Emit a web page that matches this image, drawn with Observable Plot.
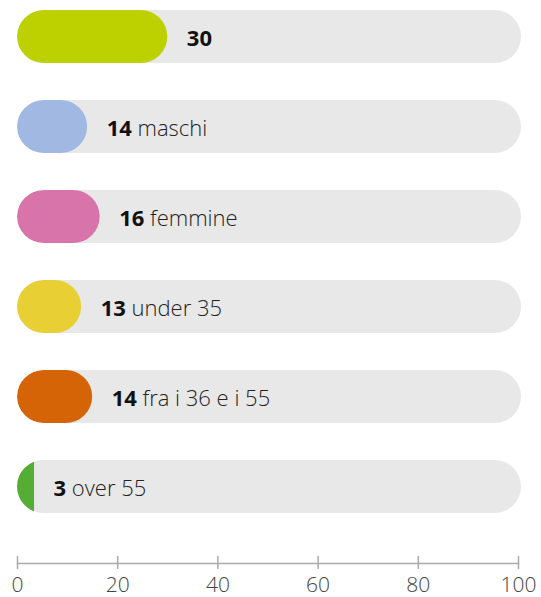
<!DOCTYPE html>
<html>
<head>
<meta charset="utf-8">
<script src="https://cdn.jsdelivr.net/npm/d3@7"></script>
<script src="https://cdn.jsdelivr.net/npm/@observablehq/plot@0.6"></script>
<style>
  html, body { margin: 0; padding: 0; background: #fff; }
  #chart svg { display: block; }
</style>
</head>
<body>
<div id="chart"></div>
<script>
const categories = ["totale", "maschi", "femmine", "under 35", "fra i 36 e i 55", "over 55"];
const names = ["", "maschi", "femmine", "under 35", "fra i 36 e i 55", "over 55"];
const counts = [30, 14, 16, 13, 14, 3];
const barValues = [30, 14, 16.5, 12.8, 15, 3.4];
const colors = ["#bdd000", "#a1b8e2", "#d874a9", "#e8cf33", "#d46405", "#55ad35"];
const xTicks = [0, 20, 40, 60, 80, 100];

const data = categories.map((c, i) => ({
  cat: c,
  v: barValues[i],
  color: colors[i],
  label: names[i] ? `${counts[i]} ${names[i]}` : `${counts[i]}`
}));

const svgNS = "http://www.w3.org/2000/svg";

const chart = Plot.plot({
  width: 541,
  height: 597,
  marginLeft: 17,
  marginRight: 23,
  marginTop: 10,
  marginBottom: 34,
  style: { fontFamily: "'Open Sans', sans-serif", background: "#fff" },
  x: { domain: [0, 100], axis: null, label: null },
  y: { domain: categories, axis: null, paddingInner: 0.4157, paddingOuter: 0.2563, align: 0 },
  color: { type: "identity" },
  marks: [
    Plot.barX(data, { x1: d => 0, x2: d => 100.6, y: "cat", fill: "#e8e8e8", rx: 26.5 }),
    Plot.barX(data, {
      x1: d => 0, x2: "v", y: "cat", fill: "color",
      render(index, scales, values, dimensions, context, next) {
        const g = next(index, scales, values, dimensions, context);
        const x0 = scales.x(0), x1 = scales.x(100.6);
        const clip = document.createElementNS(svgNS, "clipPath");
        clip.setAttribute("id", "track-clip");
        g.querySelectorAll("rect").forEach(r => {
          const y = +r.getAttribute("y"), h = +r.getAttribute("height"), w = +r.getAttribute("width");
          r.setAttribute("rx", w >= h ? h / 2 : 0);
          const c = document.createElementNS(svgNS, "rect");
          c.setAttribute("x", x0); c.setAttribute("width", x1 - x0);
          c.setAttribute("y", y); c.setAttribute("height", h);
          c.setAttribute("rx", h / 2);
          clip.appendChild(c);
        });
        g.insertBefore(clip, g.firstChild);
        g.setAttribute("clip-path", "url(#track-clip)");
        return g;
      }
    }),
    Plot.text(data, {
      x: "v", y: "cat", text: "label", dx: 19, dy: 1.5, textAnchor: "start",
      fontSize: 22, fill: "#111",
      render(index, scales, values, dimensions, context, next) {
        const g = next(index, scales, values, dimensions, context);
        g.querySelectorAll("text").forEach(t => {
          const s = t.textContent;
          const k = s.indexOf(" ");
          const num = k < 0 ? s : s.slice(0, k);
          const rest = k < 0 ? "" : s.slice(k);
          t.textContent = "";
          const a = document.createElementNS(svgNS, "tspan");
          a.setAttribute("font-weight", "700");
          a.textContent = num;
          t.appendChild(a);
          if (rest) {
            const b = document.createElementNS(svgNS, "tspan");
            b.setAttribute("font-weight", "300");
            b.setAttribute("fill", "#222");
            b.textContent = rest;
            t.appendChild(b);
          }
        });
        return g;
      }
    }),
    Plot.frame({ anchor: "bottom", stroke: "#aaa", strokeWidth: 1.5 }),
    Plot.tickX(xTicks, { x: d => d, stroke: "#aaa", strokeWidth: 1.5, insetTop: 546, insetBottom: -6 }),
    Plot.axisX(xTicks, { tickSize: 0, tickPadding: 14, fontSize: 21, fontWeight: 300, fill: "#444", label: null })
  ]
});

document.getElementById("chart").appendChild(chart);
</script>
</body>
</html>
